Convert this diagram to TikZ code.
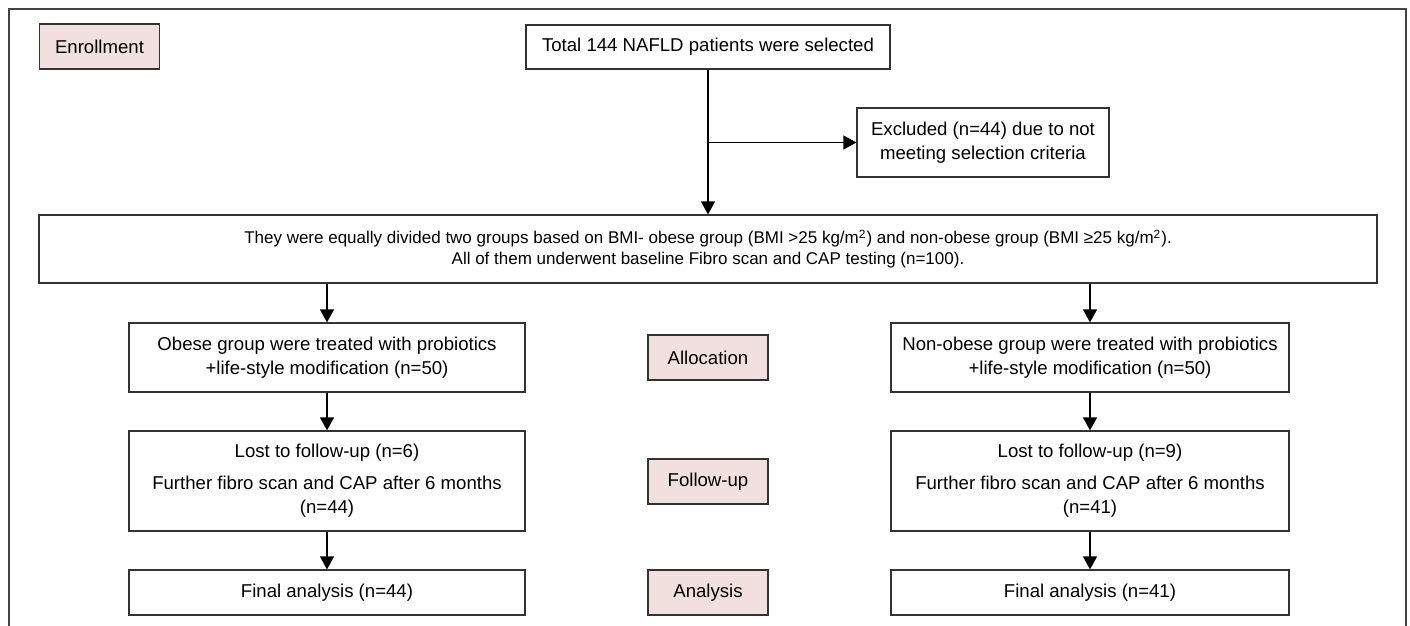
\documentclass[tikz,border=0pt]{standalone}
\usepackage{fontspec}
\setmainfont{Liberation Sans}
\usetikzlibrary{arrows.meta,calc}

\definecolor{stagepink}{HTML}{F2E0DE}
\definecolor{framegray}{HTML}{444444}

\tikzset{
  box/.style={draw=black!80, line width=0.6pt, align=center, inner sep=2pt,
    font=\fontsize{9.3}{12.3}\selectfont},
  stage/.style={box, fill=stagepink, minimum width=60pt, minimum height=22.5pt},
  arr/.style={-{Triangle[length=6.5pt,width=7pt]}, line width=0.7pt},
}

\begin{document}
\begin{tikzpicture}[x=0.5pt,y=-0.5pt]
\useasboundingbox (0,0) rectangle (1410,626);
\draw[framegray, line width=1pt] (9,626) -- (9,9) -- (1406,9) -- (1406,626); % outer frame

\node[stage] (enroll) at (99.5,46.5) {Enrollment};
\node[stage] (alloc) at (708,357.5) {Allocation};
\node[stage] (follow) at (708,481.5) {Follow-up};
\node[stage] (analysis) at (708,592.5) {Analysis};

\node[box, minimum width=182pt, minimum height=22pt] (total) at (708,47) {Total 144 NAFLD patients were selected};
\node[box, minimum width=126pt, minimum height=34.5pt] (excl) at (983,142.5) {Excluded (n=44) due to not\\ meeting selection criteria};
\node[box, minimum width=669pt, minimum height=34pt, font=\fontsize{8.5}{10.3}\selectfont] (divide) at (708,249) {They were equally divided two groups based on BMI- obese group (BMI >25 kg/m\textsuperscript{2}) and non-obese group (BMI ≥25 kg/m\textsuperscript{2}).\\ All of them underwent baseline Fibro scan and CAP testing (n=100).};

\node[box, minimum width=198pt, minimum height=34.5pt] (obese) at (327,357.5) {Obese group were treated with probiotics\\ +life-style modification (n=50)};
\node[box, minimum width=199pt, minimum height=34.5pt] (nonobese) at (1090,357.5) {Non-obese group were treated with probiotics\\ +life-style modification (n=50)};
\node[box, minimum width=198pt, minimum height=50pt] (lostL) at (327,481) {Lost to follow-up (n=6)\\[3.3pt] Further fibro scan and CAP after 6 months\\ (n=44)};
\node[box, minimum width=199pt, minimum height=50pt] (lostR) at (1090,481) {Lost to follow-up (n=9)\\[3.3pt] Further fibro scan and CAP after 6 months\\ (n=41)};
\node[box, minimum width=198pt, minimum height=22.5pt] (finalL) at (327,592.5) {Final analysis (n=44)};
\node[box, minimum width=199pt, minimum height=22.5pt] (finalR) at (1090,592.5) {Final analysis (n=41)};

\coordinate (branch) at (total.south |- excl.west);
\draw[arr] (total.south) -- (divide.north); % total - divide
\draw[arr] (branch) -- (excl.west); % total - excluded
\draw[arr] (divide.south -| obese.north) -- (obese.north); % divide - obese
\draw[arr] (divide.south -| nonobese.north) -- (nonobese.north); % divide - non-obese
\draw[arr] (obese) -- (lostL);
\draw[arr] (nonobese) -- (lostR);
\draw[arr] (lostL) -- (finalL);
\draw[arr] (lostR) -- (finalR);
\end{tikzpicture}
\end{document}
